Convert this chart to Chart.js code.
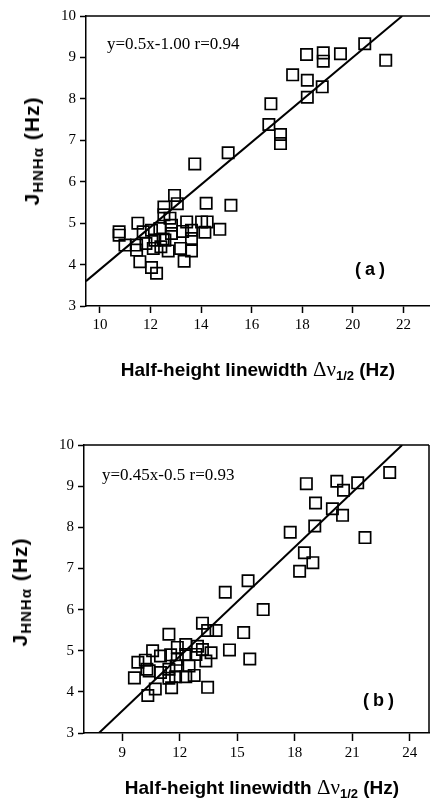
<!DOCTYPE html>
<html>
<head>
<meta charset="utf-8">
<script src="https://cdn.jsdelivr.net/npm/chart.js@4.4.1/dist/chart.umd.min.js"></script>
<style>
  body { margin: 0; background: #fff; }
  #wrap { position: relative; width: 430px; height: 800px; overflow: hidden; }
  canvas { position: absolute; left: 0; }
  .lbl { position: absolute; white-space: nowrap; color: #000; }
  .eq { font-family: "Liberation Serif", serif; font-size: 17px; transform: translateY(-50%); }
  .tag { font-family: "Liberation Sans", Arial, sans-serif; font-weight: bold; font-size: 18px; letter-spacing: 4px; transform: translateY(-50%); }
  .xt { font-family: "Liberation Sans", Arial, sans-serif; font-weight: bold; font-size: 19px; transform: translate(-50%, -50%); }
  .xt .sym { font-family: "Liberation Serif", serif; font-weight: normal; font-size: 21px; }
  .xt sub { font-size: 13px; vertical-align: -4px; }
  .yt { font-family: "Liberation Sans", Arial, sans-serif; font-weight: bold; font-size: 21px; letter-spacing: 1px; transform: translate(-50%, -50%) rotate(-90deg); }
  .yt sub { font-size: 15px; vertical-align: -4px; }
</style>
</head>
<body>
<div id="wrap">
  <canvas id="chartA" width="430" height="400" style="top:0"></canvas>
  <canvas id="chartB" width="430" height="400" style="top:400px"></canvas>

  <div class="lbl eq" style="left:107px; top:44px">y=0.5x-1.00 r=0.94</div>
  <div class="lbl tag" style="left:355px; top:269px">(a)</div>
  <div class="lbl xt" style="left:258px; top:370px">Half-height linewidth <span class="sym">Δν</span><sub>1/2</sub> (Hz)</div>
  <div class="lbl yt" style="left:33px; top:151px">J<sub>HNHα</sub> (Hz)</div>

  <div class="lbl eq" style="left:102px; top:475px">y=0.45x-0.5 r=0.93</div>
  <div class="lbl tag" style="left:363px; top:700px">(b)</div>
  <div class="lbl xt" style="left:262px; top:788px">Half-height linewidth <span class="sym">Δν</span><sub>1/2</sub> (Hz)</div>
  <div class="lbl yt" style="left:21px; top:592px">J<sub>HNHα</sub> (Hz)</div>
</div>
<script>
// panel (a) values
const xA = [20.47, 21.3, 19.51, 18.83, 18.83, 18.17, 17.62, 18.2, 18.79, 18.2, 16.76, 16.68, 17.14, 17.14, 15.07, 13.75,
            15.18, 14.2, 12.95, 13.06, 12.53, 12.53, 12.77, 11.5, 10.76, 10.76, 13.43, 14.02, 14.24, 14.74, 14.15, 13.62,
            13.62, 13.27, 12.83, 12.83, 12.37, 12.04, 11.71, 10.99, 11.45, 11.82, 12.11, 12.41, 12.7, 13.19, 13.62, 12.57,
            11.58, 13.33, 12.04, 12.24, 12.17, 11.45, 12.5];
const yA = [9.33, 8.93, 9.09, 9.11, 8.91, 9.07, 8.58, 8.45, 8.29, 8.04, 7.88, 7.38, 7.14, 6.92, 6.70, 6.43,
            5.43, 5.48, 5.67, 5.47, 5.39, 5.2, 5.12, 5.0, 4.79, 4.71, 5.03, 5.03, 5.03, 4.85, 4.78, 4.83,
            4.63, 4.8, 4.95, 4.75, 4.87, 4.83, 4.79, 4.47, 4.35, 4.51, 4.39, 4.43, 4.33, 4.39, 4.33, 4.59,
            4.07, 4.08, 3.93, 3.79, 4.59, 4.47, 4.62];
const fitAx = [9.45, 21.95];
const fitAy = [3.6, 10];
const xTicksA = [10, 12, 14, 16, 18, 20, 22];

// panel (b) values
const xB = [22.95, 18.6, 20.19, 20.54, 21.28, 19.08, 19.96, 20.49, 21.66, 17.76, 19.04, 18.5, 18.94, 18.25, 15.56, 14.37,
            16.35, 15.33, 15.65, 14.59, 13.89, 13.18, 13.45, 11.43, 11.87, 12.31, 12.92, 13.18, 13.63, 13.36, 12.84, 12.31,
            11.52, 10.99, 10.58, 10.2, 9.81, 10.28, 10.4, 10.99, 11.43, 11.81, 12.48, 11.78, 11.43, 12.31, 12.75, 9.63,
            10.72, 11.57, 10.33, 13.45, 11.87];
const yB = [9.33, 9.06, 9.12, 8.90, 9.08, 8.59, 8.45, 8.29, 7.75, 7.88, 8.03, 7.38, 7.14, 6.93, 6.70, 6.42,
            6.0, 5.44, 4.8, 5.02, 5.49, 5.67, 5.49, 5.4, 5.08, 5.15, 5.11, 5.03, 4.95, 4.75, 4.91, 4.91,
            4.9, 4.87, 5.0, 4.77, 4.72, 4.55, 4.51, 4.47, 4.55, 4.63, 4.63, 4.37, 4.33, 4.37, 4.4, 4.34,
            4.07, 4.1, 3.91, 4.11, 4.79];
const fitBx = [7.78, 23.6];
const fitBy = [3, 10];
const xTicksB = [9, 12, 15, 18, 21, 24];

const yTicks = [3, 4, 5, 6, 7, 8, 9, 10];

function pts(xs, ys) {
    return xs.map((x, i) => ({ x: x, y: ys[i] }));
}

// draws the top (and right) edge of the plot box
const frame = {
    id: 'frame',
    afterDraw(chart, args, opts) {
        const a = chart.chartArea;
        const ctx = chart.ctx;
        ctx.save();
        ctx.strokeStyle = '#000';
        ctx.lineWidth = 1.5;
        ctx.beginPath();
        ctx.moveTo(a.left, a.top);
        ctx.lineTo(a.right, a.top);
        if (opts.right) {
            ctx.moveTo(a.right, a.top);
            ctx.lineTo(a.right, a.bottom);
        }
        ctx.stroke();
        ctx.restore();
    }
};

function makeChart(id, xs, ys, fx, fy, xmin, xmax, xticks, cfg) {
    const ctx = document.getElementById(id).getContext('2d');
    return new Chart(ctx, {
        type: 'scatter',
        data: {
            datasets: [{
                data: pts(xs, ys),
                pointStyle: 'rect',
                pointRadius: 8,
                pointBorderWidth: 1.7,
                pointBorderColor: '#000',
                pointBackgroundColor: 'rgba(0,0,0,0)'
            }, {
                type: 'line',
                data: pts(fx, fy),
                borderColor: '#000',
                borderWidth: 2,
                pointRadius: 0,
                fill: false
            }]
        },
        options: {
            responsive: false,
            animation: false,
            devicePixelRatio: 1,
            layout: { autoPadding: false, padding: { top: cfg.top, right: cfg.right, left: 0, bottom: 0 } },
            plugins: {
                legend: { display: false },
                tooltip: { enabled: false },
                frame: { right: cfg.frameRight }
            },
            scales: {
                x: {
                    type: 'linear',
                    min: xmin,
                    max: xmax,
                    afterBuildTicks: s => { s.ticks = xticks.map(v => ({ value: v })); },
                    afterFit: s => { s.height = cfg.xh; },
                    grid: { drawOnChartArea: false, tickLength: cfg.xtl, tickColor: '#000', tickWidth: 1.5 },
                    border: { display: true, color: '#000', width: 1.5 },
                    ticks: { color: '#000', padding: 3, font: { family: 'Liberation Serif', size: 15 } }
                },
                y: {
                    type: 'linear',
                    min: 3,
                    max: 10,
                    afterBuildTicks: s => { s.ticks = yTicks.map(v => ({ value: v })); },
                    afterFit: s => { s.width = cfg.yw; },
                    grid: { drawOnChartArea: false, tickLength: 6, tickColor: '#000', tickWidth: 1.5 },
                    border: { display: true, color: '#000', width: 1.5 },
                    ticks: { color: '#000', padding: 4, font: { family: 'Liberation Serif', size: 15 } }
                }
            }
        },
        plugins: [frame]
    });
}

makeChart('chartA', xA, yA, fitAx, fitAy, 9.45, 23.05, xTicksA,
    { top: 16, right: 0, xh: 94, yw: 86, xtl: 7, frameRight: false });
makeChart('chartB', xB, yB, fitBx, fitBy, 7, 25, xTicksB,
    { top: 45, right: 1, xh: 67, yw: 84, xtl: 8, frameRight: true });
</script>
</body>
</html>
